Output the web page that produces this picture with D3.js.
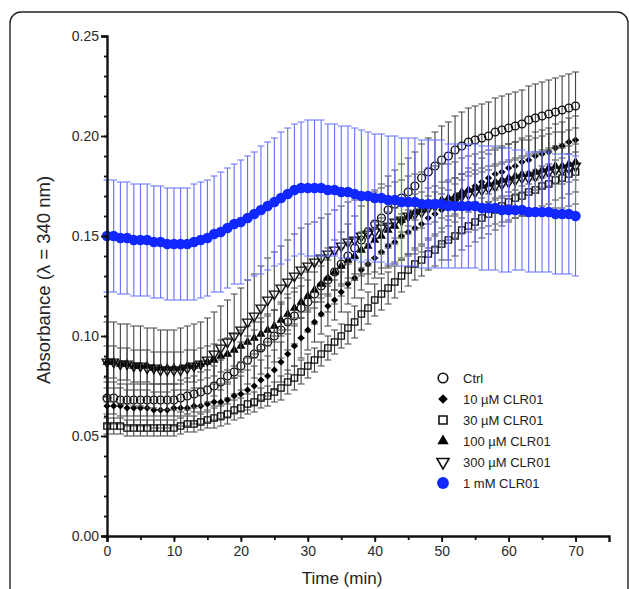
<!DOCTYPE html>
<html>
<head>
<meta charset="utf-8">
<script src="https://cdn.jsdelivr.net/npm/d3@7"></script>
<style>
  body { margin: 0; background: #fff; }
  svg text { font-family: "Liberation Sans", Arial, sans-serif; }
</style>
</head>
<body>
<div id="chart"></div>
<script>
const svgWidth = 629;
const svgHeight = 589;

// minutes 0..70, one reading per minute
const times = d3.range(0, 71);
const yTicks = [0, 0.05, 0.10, 0.15, 0.20, 0.25];
const xTicks = [0, 10, 20, 30, 40, 50, 60, 70];

const labels = ["Ctrl", "10 \u00b5M CLR01", "30 \u00b5M CLR01", "100 \u00b5M CLR01", "300 \u00b5M CLR01", "1 mM CLR01"];

const ctrlMean = [
  .069,.069,.068,.068,.068,.068,.068,.068,.068,.068,
  .068,.069,.070,.071,.072,.073,.075,.077,.080,.082,
  .085,.088,.091,.094,.097,.100,.103,.107,.110,.114,
  .117,.121,.125,.128,.132,.136,.140,.144,.148,.152,
  .156,.159,.163,.166,.169,.172,.175,.179,.182,.185,
  .188,.190,.193,.195,.197,.198,.199,.200,.202,.203,
  .204,.205,.206,.208,.209,.210,.211,.212,.213,.214,
  .215];
const ctrlSd = [
  .008,.008,.008,.008,.008,.008,.008,.008,.008,.008,
  .008,.009,.009,.009,.010,.010,.010,.011,.011,.011,
  .012,.012,.012,.013,.013,.013,.014,.014,.014,.015,
  .015,.015,.015,.016,.016,.016,.016,.016,.017,.017,
  .017,.017,.017,.017,.017,.017,.017,.017,.017,.017,
  .017,.017,.017,.017,.017,.017,.017,.017,.017,.017,
  .017,.017,.017,.017,.017,.017,.017,.017,.017,.017,
  .017];

const c10Mean = [
  .065,.065,.065,.064,.064,.064,.064,.063,.063,.063,
  .064,.064,.064,.065,.065,.066,.067,.067,.068,.070,
  .071,.073,.075,.078,.080,.083,.087,.091,.095,.099,
  .103,.107,.111,.115,.118,.122,.126,.129,.133,.136,
  .139,.142,.145,.147,.150,.152,.154,.156,.159,.161,
  .163,.166,.168,.170,.173,.175,.177,.179,.181,.182,
  .184,.185,.187,.188,.190,.191,.192,.194,.195,.197,
  .198];
const c10Sd = [
  .009,.009,.009,.009,.009,.009,.009,.009,.009,.009,
  .009,.009,.009,.009,.009,.009,.009,.009,.009,.009,
  .009,.010,.010,.010,.010,.010,.010,.010,.010,.010,
  .010,.010,.010,.010,.010,.010,.010,.010,.010,.010,
  .010,.011,.011,.011,.011,.011,.011,.011,.011,.011,
  .011,.011,.011,.011,.011,.011,.012,.012,.012,.012,
  .012,.012,.012,.012,.012,.012,.012,.012,.012,.012,
  .012];

const c30Mean = [
  .055,.055,.055,.054,.054,.054,.054,.054,.054,.054,
  .054,.055,.056,.056,.057,.058,.059,.060,.061,.063,
  .064,.066,.067,.069,.070,.072,.074,.077,.079,.082,
  .085,.088,.091,.094,.097,.100,.104,.107,.111,.114,
  .118,.121,.124,.127,.130,.133,.136,.138,.141,.143,
  .146,.148,.150,.153,.155,.157,.159,.161,.163,.165,
  .167,.169,.170,.172,.173,.175,.176,.178,.179,.181,
  .182];
const c30Sd = [
  .004,.004,.004,.004,.004,.004,.004,.004,.004,.004,
  .004,.004,.004,.004,.004,.004,.005,.005,.005,.005,
  .005,.005,.005,.005,.005,.005,.006,.006,.006,.006,
  .006,.006,.006,.006,.006,.006,.008,.008,.008,.008,
  .008,.008,.008,.008,.008,.008,.008,.008,.008,.008,
  .008,.010,.010,.010,.010,.010,.010,.010,.010,.010,
  .010,.010,.010,.010,.010,.010,.010,.010,.010,.010,
  .010];

const c100Mean = [
  .087,.087,.086,.086,.085,.085,.085,.084,.084,.084,
  .084,.084,.085,.085,.086,.087,.088,.090,.091,.093,
  .095,.097,.099,.101,.103,.105,.108,.111,.114,.117,
  .120,.123,.126,.129,.132,.135,.138,.140,.143,.145,
  .148,.150,.153,.155,.158,.160,.162,.163,.165,.166,
  .168,.169,.170,.172,.173,.174,.175,.176,.177,.178,
  .179,.180,.181,.181,.182,.183,.184,.185,.185,.186,
  .187];
const c100Sd = [
  .008,.008,.008,.008,.008,.008,.008,.008,.008,.008,
  .008,.008,.008,.008,.008,.008,.008,.008,.008,.008,
  .008,.008,.008,.008,.008,.008,.008,.008,.008,.008,
  .008,.009,.009,.009,.009,.009,.009,.009,.009,.009,
  .009,.009,.009,.009,.009,.009,.009,.009,.009,.009,
  .009,.009,.009,.009,.009,.009,.009,.009,.009,.009,
  .009,.009,.009,.009,.009,.009,.009,.009,.009,.009,
  .009];

const c300Mean = [
  .087,.087,.086,.086,.085,.085,.084,.084,.083,.083,
  .083,.083,.084,.085,.086,.088,.091,.094,.097,.100,
  .103,.107,.110,.114,.118,.121,.124,.127,.130,.133,
  .135,.137,.139,.141,.143,.145,.147,.148,.150,.151,
  .152,.154,.155,.157,.158,.160,.161,.162,.164,.165,
  .166,.167,.168,.170,.171,.172,.173,.174,.175,.176,
  .177,.178,.179,.179,.180,.181,.182,.183,.183,.184,
  .185];
const c300Sd = [
  .020,.020,.020,.020,.020,.020,.020,.020,.020,.020,
  .020,.021,.021,.021,.021,.021,.021,.021,.021,.021,
  .021,.021,.021,.021,.021,.021,.021,.021,.021,.021,
  .021,.020,.020,.020,.020,.020,.020,.020,.020,.020,
  .020,.020,.020,.020,.020,.020,.020,.020,.020,.020,
  .020,.019,.019,.019,.019,.019,.019,.019,.019,.019,
  .019,.019,.019,.019,.019,.019,.019,.019,.019,.019,
  .019];

const c1000Mean = [
  .150,.150,.149,.149,.148,.148,.148,.147,.147,.146,
  .146,.146,.146,.147,.148,.149,.151,.152,.154,.156,
  .157,.159,.161,.163,.165,.167,.169,.171,.173,.174,
  .174,.174,.174,.173,.173,.172,.172,.171,.170,.170,
  .169,.169,.168,.168,.167,.167,.167,.166,.166,.166,
  .166,.165,.165,.165,.165,.165,.164,.164,.164,.163,
  .163,.163,.163,.162,.162,.162,.162,.161,.161,.161,
  .160];
const c1000Sd = [
  .028,.028,.028,.028,.028,.028,.028,.028,.028,.028,
  .028,.028,.028,.029,.029,.029,.029,.030,.030,.030,
  .031,.031,.031,.032,.032,.032,.033,.033,.033,.033,
  .034,.034,.034,.033,.033,.033,.033,.033,.033,.032,
  .032,.032,.032,.032,.032,.032,.032,.032,.032,.032,
  .032,.031,.031,.031,.031,.031,.031,.031,.031,.031,
  .031,.030,.030,.030,.030,.030,.030,.030,.030,.030,
  .030];

const means = [ctrlMean, c10Mean, c30Mean, c100Mean, c300Mean, c1000Mean];
const sds = [ctrlSd, c10Sd, c30Sd, c100Sd, c300Sd, c1000Sd];

// marker styles per series (diamond = square turned 45 degrees)
const blue = "#1028ff";
const styles = [
  { type: d3.symbolCircle, size: 48, fill: "none", stroke: "#111", rot: 0 },
  { type: d3.symbolSquare, size: 26, fill: "#000", stroke: "none", rot: 45 },
  { type: d3.symbolSquare, size: 40, fill: "none", stroke: "#111", rot: 0 },
  { type: d3.symbolTriangle, size: 36, fill: "#000", stroke: "none", rot: 0 },
  { type: d3.symbolTriangle, size: 42, fill: "none", stroke: "#111", rot: 180 },
  { type: d3.symbolCircle, size: 85, fill: blue, stroke: "none", rot: 0 }
];
const legendSizes = [72, 46, 64, 56, 64, 110];
const barColors = ["#444", "#444", "#444", "#444", "#444", "#6470ff"];

var svg = d3.select("#chart")
  .append("svg")
  .attr("width", svgWidth)
  .attr("height", svgHeight);

// rounded frame, open at the bottom of the picture
svg.append("rect")
  .attr("x", 10).attr("y", 12)
  .attr("width", 628 - 10).attr("height", 620)
  .attr("rx", 11)
  .attr("fill", "none")
  .attr("stroke", "#222")
  .attr("stroke-width", 1.4);

var x = d3.scaleLinear().domain([0, 75]).range([107, 609]);
var y = d3.scaleLinear().domain([0, 0.25]).range([536, 36]);

// ------ DATA -------
var capW = 3.5;
means.forEach(function(m, s) {
  var sd = sds[s];
  var st = styles[s];
  var g = svg.append("g");

  var bars = g.append("g")
    .attr("stroke", barColors[s])
    .attr("stroke-width", 1.1)
    .attr("fill", "none");

  bars.selectAll("path")
    .data(times)
    .enter()
    .append("path")
    .attr("d", function(t, i) {
      var cx = x(t), hi = y(m[i] + sd[i]), lo = y(m[i] - sd[i]);
      return `M${cx},${hi}V${lo}M${cx - capW},${hi}H${cx + capW}M${cx - capW},${lo}H${cx + capW}`;
    });

  var sym = d3.symbol().type(st.type).size(st.size);
  g.append("g").selectAll("path")
    .data(times)
    .enter()
    .append("path")
    .attr("d", sym)
    .attr("transform", (t, i) => `translate(${x(t)},${y(m[i])}) rotate(${st.rot})`)
    .attr("fill", st.fill)
    .attr("stroke", st.stroke)
    .attr("stroke-width", 1.4);
});

// ------ AXES -------
var axisColor = "#111";

var yMinor = svg.append("g")
  .attr("transform", `translate(107,0)`)
  .call(d3.axisLeft(y).tickValues(d3.range(0, 26).map(d => d / 100)).tickSize(3).tickFormat(""));
yMinor.select(".domain").remove();

var yAxis = svg.append("g")
  .attr("transform", `translate(107,0)`)
  .call(d3.axisLeft(y).tickValues(yTicks).tickSize(6).tickPadding(2).tickFormat(d3.format(".2f")));

var xMinor = svg.append("g")
  .attr("transform", `translate(0,536)`)
  .call(d3.axisBottom(x).tickValues(d3.range(0, 75, 5)).tickSize(4).tickFormat(""));
xMinor.select(".domain").remove();

var xAxis = svg.append("g")
  .attr("transform", `translate(0,536)`)
  .call(d3.axisBottom(x).tickValues(xTicks).tickSize(6).tickPadding(4));

svg.selectAll(".domain, .tick line")
  .attr("stroke", axisColor)
  .attr("stroke-width", 1.8);
svg.selectAll(".domain").attr("stroke-width", 2.4);

svg.selectAll(".tick text")
  .attr("font-size", 14)
  .attr("fill", "#2a2a2a")
  .attr("font-family", "Liberation Sans, Arial, sans-serif");

// axis titles
svg.append("text")
  .attr("x", 342).attr("y", 584)
  .attr("text-anchor", "middle")
  .attr("font-size", 17)
  .attr("fill", "#222")
  .text("Time (min)");

svg.append("text")
  .attr("transform", "translate(50,280) rotate(-90)")
  .attr("text-anchor", "middle")
  .attr("font-size", 18.5)
  .attr("fill", "#222")
  .text("Absorbance (\u03bb = 340 nm)");

// ------ LEGEND -------
var legend = svg.append("g");
labels.forEach(function(name, i) {
  var ly = 378 + i * 21;
  var st = styles[i];
  legend.append("path")
    .attr("d", d3.symbol().type(st.type).size(legendSizes[i])())
    .attr("transform", `translate(443,${ly}) rotate(${st.rot})`)
    .attr("fill", st.fill)
    .attr("stroke", st.stroke)
    .attr("stroke-width", 1.6);
  legend.append("text")
    .attr("x", 463).attr("y", ly + 4.5)
    .attr("font-size", 13)
    .attr("fill", "#222")
    .text(name);
});
</script>
</body>
</html>
